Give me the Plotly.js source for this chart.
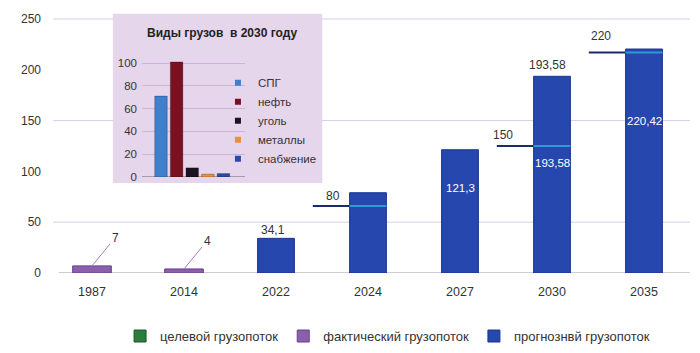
<!DOCTYPE html>
<html><head><meta charset="utf-8">
<script src="https://cdn.plot.ly/plotly-3.0.1.min.js"></script>
<style>html,body{margin:0;padding:0;background:#fff}#chart{width:700px;height:353px}</style>
</head><body><div id="chart"></div>
<script>
// ---- data ----
const years = ['1987','2014','2022','2024','2027','2030','2035'];
const actualYears = ['1987','2014'];
const actualValues = [7, 4];
const forecastYears = ['2022','2024','2027','2030','2035'];
const forecastValues = [34.1, 79, 121.3, 193.58, 220.42];
const forecastLabels = ['34,1', '', '121,3', '193,58', '220,42'];
const targetYears = ['2024','2030','2035'];
const targetLevels = [66, 125, 217];
const targetLabels = ['80','150','220'];
const cargoTypes = ['СПГ','нефть','уголь','металлы','снабжение'];
const cargoValues = [71, 101, 8, 2.5, 3];
const legendNames = ['целевой грузопоток','фактический грузопоток','прогнознвй грузопоток'];

// ---- styles ----
const C_FORE = '#2547ae', C_FORE_EDGE = '#1a3690';
const C_ACT = '#8c5fab', C_ACT_EDGE = '#6a3f8c';
const C_TARGET = '#2a7d3c';
const cargoColors = ['#3f7fcc','#7a1020','#1c1222','#f08a3c','#2a4aa8'];
const FONT = 'Liberation Sans, Arial, sans-serif';
const idx = y => years.indexOf(y);

const traces = [];
traces.push({type:'bar', x:[null], y:[null], name:legendNames[0], marker:{color:C_TARGET, line:{color:'#1d5a2a', width:1}}, legend:'legend', hoverinfo:'skip'});
traces.push({type:'bar', x:actualYears.map(idx), y:actualValues, name:legendNames[1], width:0.42,
  marker:{color:C_ACT, line:{color:C_ACT_EDGE, width:1}}, legend:'legend'});
traces.push({type:'bar', x:forecastYears.map(idx), y:forecastValues, name:legendNames[2], width:0.4,
  marker:{color:C_FORE, line:{color:C_FORE_EDGE, width:1}}, legend:'legend'});
targetYears.forEach((yr, k) => {
  const i = idx(yr), v = targetLevels[k];
  traces.push({type:'scatter', mode:'lines', x:[i-0.6, i-0.2], y:[v, v], line:{color:'#1d2a66', width:2}, showlegend:false, hoverinfo:'skip'});
  traces.push({type:'scatter', mode:'lines', x:[i-0.2, i+0.2], y:[v, v], line:{color:'#2f9ad6', width:2}, showlegend:false, hoverinfo:'skip'});
});
cargoTypes.forEach((c, k) => {
  traces.push({type:'bar', x:[k], y:[cargoValues[k]], xaxis:'x2', yaxis:'y2', width:0.8,
    marker:{color:cargoColors[k], line:{color:'rgba(0,0,0,0.25)', width:1}}, showlegend:false});
  traces.push({type:'scatter', mode:'markers', x:[null], y:[null], xaxis:'x2', yaxis:'y2', name:c,
    marker:{symbol:'square', size:6, color:cargoColors[k]}, legend:'legend2', showlegend:true});
});

const annotations = [];
actualYears.forEach((yr, k) => {
  annotations.push({x:idx(yr), y:actualValues[k], xref:'x', yref:'y', text:String(actualValues[k]),
    showarrow:true, arrowhead:0, arrowwidth:1, arrowcolor:'#a77cc4', ax:23, ay:-28,
    font:{family:FONT, size:12, color:'#333'}, standoff:0});
});
const insideFrac = {'2027':0.69, '2030':0.56, '2035':0.68};
forecastYears.forEach((yr, k) => {
  const v = forecastValues[k];
  if (yr === '2022') annotations.push({x:idx(yr), y:v, xref:'x', yref:'y', text:forecastLabels[k], showarrow:false, yanchor:'bottom', yshift:-1, xshift:-3, font:{family:FONT, size:12, color:'#333'}});
  if (yr === '2030') annotations.push({x:idx(yr), y:v, xref:'x', yref:'y', text:forecastLabels[k], showarrow:false, yanchor:'bottom', yshift:2, xshift:-5, font:{family:FONT, size:12, color:'#333'}});
  if (insideFrac[yr]) annotations.push({x:idx(yr), y:v*insideFrac[yr], xref:'x', yref:'y', text:forecastLabels[k], showarrow:false, font:{family:FONT, size:11.5, color:'#fff'}});
});
const tShiftX = {'2024':-35, '2030':-49, '2035':-43};
const tShiftY = {'2024':-1, '2030':0, '2035':6};
targetYears.forEach((yr, k) => {
  annotations.push({x:idx(yr), y:targetLevels[k], xref:'x', yref:'y', text:targetLabels[k], showarrow:false, yanchor:'bottom', yshift:2+tShiftY[yr], xshift:tShiftX[yr], font:{family:FONT, size:12, color:'#333'}});
});
annotations.push({x:0.5, y:1.0, xref:'x2 domain', yref:'y2 domain', xanchor:'center', yanchor:'middle', text:'<b>Виды грузов  в 2030 году</b>', showarrow:false, xshift:29, yshift:24, font:{family:FONT, size:12, color:'#222'}});

const shapes = [];
[50,150,250].forEach(v => shapes.push({type:'line', xref:'paper', yref:'y', x0:0.011, x1:1, y0:v, y1:v, line:{color:'#dccbe6', width:1}, layer:'below'}));
shapes.push({type:'line', xref:'x', yref:'y', x0:-0.36, x1:6.5, y0:0, y1:0, line:{color:'#9a9a9a', width:1}, layer:'below'});
shapes.push({type:'rect', xref:'x2 domain', yref:'y2 domain', x0:-0.282, x1:1.75, y0:-0.05, y1:1.36, fillcolor:'#e6d6ec', line:{width:0}, layer:'below'});

const layout = {
  width:700, height:353,
  margin:{l:46, r:10, t:8, b:80, autoexpand:false},
  paper_bgcolor:'#fff', plot_bgcolor:'rgba(0,0,0,0)',
  barmode:'overlay', showlegend:true,
  font:{family:FONT, color:'#333'},
  xaxis:{range:[-0.5, 6.5], tickvals:years.map((y,i)=>i), ticktext:years, showgrid:false, zeroline:false, showline:false,
    ticks:'', ticklabelstandoff:9, tickfont:{family:FONT, size:12.5, color:'#333'}},
  yaxis:{range:[0, 260.8], dtick:50, tick0:0, showgrid:false, zeroline:false, showline:false, ticks:'',
    ticklabelstandoff:4, tickfont:{family:FONT, size:12, color:'#333'}},
  xaxis2:{domain:[0.149, 0.309], anchor:'y2', range:[-1.22, 5.38], showticklabels:false, showgrid:false, zeroline:false, ticks:''},
  yaxis2:{domain:[0.3623, 0.815], anchor:'x2', range:[0, 105.3], dtick:20, showgrid:true, gridcolor:'#cdb5d9', gridwidth:1,
    zeroline:true, zerolinecolor:'#a899ad', zerolinewidth:1, ticks:'', ticklabelstandoff:4, tickfont:{family:FONT, size:11.5, color:'#333'}},
  legend:{orientation:'h', x:0.115, xanchor:'left', y:-0.238, yanchor:'middle', font:{family:FONT, size:13, color:'#333'}, bgcolor:'rgba(0,0,0,0)', traceorder:'normal', itemclick:false},
  legend2:{orientation:'v', x:0.267, xanchor:'left', y:0.773, yanchor:'top', font:{family:FONT, size:11.5, color:'#333'}, bgcolor:'rgba(0,0,0,0)', itemclick:false},
  annotations, shapes
};
Plotly.newPlot('chart', traces, layout, {displayModeBar:false, staticPlot:true});
</script></body></html>
